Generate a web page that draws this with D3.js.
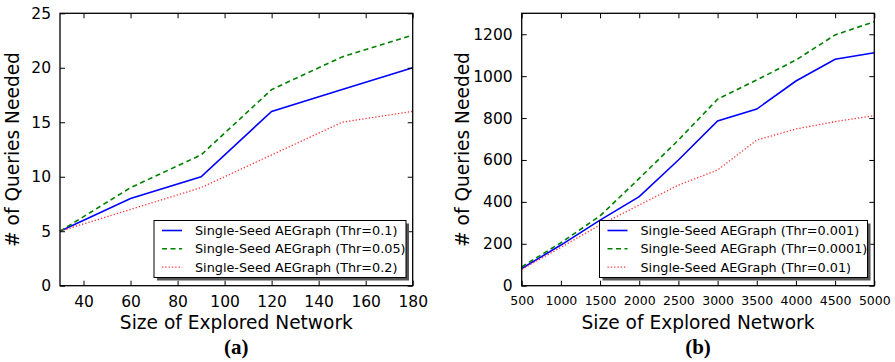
<!DOCTYPE html>
<html>
<head>
<meta charset="utf-8">
<script src="https://cdn.jsdelivr.net/npm/d3@7"></script>
<style>
  body { margin: 0; background: #fff; }
  svg text { font-family: "DejaVu Sans", sans-serif; fill: #000; }
</style>
</head>
<body>
<svg id="chart" width="895" height="362"></svg>
<script>
// panel (a)
const sizesA = [30, 60, 90, 120, 150, 180];
const thrA01 = [5, 8, 10, 16, 18, 20];
const thrA005 = [5, 9, 12, 18, 21, 23];
const thrA02 = [5, 7, 9, 12, 15, 16];
const xTicksA = [40, 60, 80, 100, 120, 140, 160, 180];
const yTicksA = [0, 5, 10, 15, 20, 25];

// panel (b)
const sizesB = [500, 1000, 1500, 2000, 2500, 3000, 3500, 4000, 4500, 5000];
const thrB0001 = [82, 194, 313, 425, 600, 786, 843, 977, 1081, 1112];
const thrB00001 = [90, 205, 333, 512, 695, 890, 982, 1077, 1197, 1260];
const thrB001 = [78, 183, 290, 385, 480, 552, 695, 748, 783, 812];
const xTicksB = [500, 1000, 1500, 2000, 2500, 3000, 3500, 4000, 4500, 5000];
const yTicksB = [0, 200, 400, 600, 800, 1000, 1200];

const styles = [
  {color: "#0000ff", dash: null, width: 1.6},
  {color: "#008000", dash: "5,3.5", width: 1.6},
  {color: "#ff3333", dash: "1.3,2", width: 1.3}
];

const svg = d3.select("#chart");

function drawPanel(opt) {
  const x = d3.scaleLinear().domain(opt.xDomain).range([opt.left, opt.right]);
  const y = d3.scaleLinear().domain(opt.yDomain).range([opt.bottom, opt.top]);
  const g = svg.append("g");

  // lines
  const line = d3.line().x(d => x(d[0])).y(d => y(d[1]));
  opt.series.forEach((s, i) => {
    const st = styles[i];
    g.append("path")
      .datum(opt.xs.map((v, j) => [v, s.values[j]]))
      .attr("d", line)
      .attr("fill", "none")
      .attr("stroke", st.color)
      .attr("stroke-width", st.width)
      .attr("stroke-dasharray", st.dash);
  });

  // axes with inward ticks on all four sides
  const fmt = d3.format("d");
  const bottomAxis = d3.axisBottom(x).tickValues(opt.xTicks).tickSize(-5).tickPadding(10).tickFormat(fmt);
  const topAxis = d3.axisTop(x).tickValues(opt.xTicks).tickSize(-5).tickFormat("");
  const leftAxis = d3.axisLeft(y).tickValues(opt.yTicks).tickSize(-5).tickPadding(9).tickFormat(fmt);
  const rightAxis = d3.axisRight(y).tickValues(opt.yTicks).tickSize(-5).tickFormat("");

  const ax = [
    g.append("g").attr("transform", `translate(0,${opt.bottom})`).call(bottomAxis),
    g.append("g").attr("transform", `translate(0,${opt.top})`).call(topAxis),
    g.append("g").attr("transform", `translate(${opt.left},0)`).call(leftAxis),
    g.append("g").attr("transform", `translate(${opt.right},0)`).call(rightAxis)
  ];
  ax.forEach(a => {
    a.select(".domain").remove();
    a.selectAll("line").attr("stroke", "#000").attr("stroke-width", 1);
    a.selectAll("text").style("font-family", "DejaVu Sans").attr("fill", "#000");
  });
  ax[0].selectAll("text").style("font-size", opt.xTickFont + "px");
  ax[2].selectAll("text").style("font-size", "15.5px");

  g.append("rect")
    .attr("x", opt.left).attr("y", opt.top)
    .attr("width", opt.right - opt.left).attr("height", opt.bottom - opt.top)
    .attr("fill", "none").attr("stroke", "#000").attr("stroke-width", 1.3);

  // axis titles
  const cx = (opt.left + opt.right) / 2;
  g.append("text")
    .attr("x", cx).attr("y", 329)
    .attr("text-anchor", "middle")
    .style("font-size", "18.6px")
    .text("Size of Explored Network");
  g.append("text")
    .attr("transform", `translate(${opt.yTitleX},${(opt.top + opt.bottom) / 2}) rotate(-90)`)
    .attr("text-anchor", "middle")
    .style("font-size", "18.6px")
    .text("# of Queries Needed");
  g.append("text")
    .attr("x", cx).attr("y", 354)
    .attr("text-anchor", "middle")
    .style("font-family", "Liberation Serif, serif")
    .style("font-weight", "bold")
    .style("font-size", "21px")
    .text(opt.tag);

  // legend
  const lg = opt.legend;
  g.append("rect")
    .attr("x", lg.x + 3).attr("y", lg.y + 3)
    .attr("width", lg.w).attr("height", lg.h)
    .attr("fill", "#555");
  g.append("rect")
    .attr("x", lg.x).attr("y", lg.y)
    .attr("width", lg.w).attr("height", lg.h)
    .attr("fill", "#fff").attr("stroke", "#000").attr("stroke-width", 1);
  opt.series.forEach((s, i) => {
    const st = styles[i];
    const yy = lg.y + 10 + i * 18.3;
    g.append("line")
      .attr("x1", lg.x + 8).attr("x2", lg.x + 28)
      .attr("y1", yy).attr("y2", yy)
      .attr("stroke", st.color)
      .attr("stroke-width", st.width)
      .attr("stroke-dasharray", st.dash);
    g.append("text")
      .attr("x", lg.x + 41).attr("y", yy + 4.6)
      .style("font-size", "12.8px")
      .attr("fill", "#111")
      .text(s.name);
  });
}

drawPanel({
  left: 60, right: 412.7, top: 13.3, bottom: 285.7,
  xDomain: [30, 180], yDomain: [0, 25],
  xTicks: xTicksA, yTicks: yTicksA, xTickFont: 15.5,
  xs: sizesA, yTitleX: 19,
  series: [
    {name: "Single-Seed AEGraph (Thr=0.1)", values: thrA01},
    {name: "Single-Seed AEGraph (Thr=0.05)", values: thrA005},
    {name: "Single-Seed AEGraph (Thr=0.2)", values: thrA02}
  ],
  legend: {x: 154, y: 220.5, w: 252, h: 57},
  tag: "(a)"
});

drawPanel({
  left: 521.7, right: 874.3, top: 13.3, bottom: 285.7,
  xDomain: [500, 5000], yDomain: [0, 1300],
  xTicks: xTicksB, yTicks: yTicksB, xTickFont: 12.5,
  xs: sizesB, yTitleX: 469,
  series: [
    {name: "Single-Seed AEGraph (Thr=0.001)", values: thrB0001},
    {name: "Single-Seed AEGraph (Thr=0.0001)", values: thrB00001},
    {name: "Single-Seed AEGraph (Thr=0.01)", values: thrB001}
  ],
  legend: {x: 599.5, y: 220.5, w: 268, h: 57},
  tag: "(b)"
});
</script>
</body>
</html>
